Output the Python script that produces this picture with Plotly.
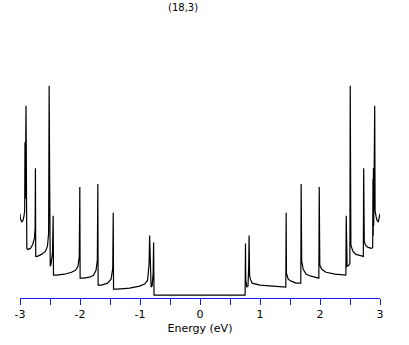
import plotly.graph_objects as go

# Density of states of a (18,3) nanotube (arbitrary units)
energy_neg = [-3.0, -2.993, -2.972, -2.952, -2.935, -2.922, -2.917, -2.912, -2.900, -2.893,
              -2.886, -2.868, -2.826, -2.788, -2.760, -2.748, -2.743, -2.738, -2.710, -2.643,
              -2.577, -2.543, -2.523, -2.514, -2.506, -2.496, -2.484, -2.459, -2.447, -2.442,
              -2.392, -2.259, -2.142, -2.075, -2.033, -2.012, -2.003, -1.998, -1.942, -1.841,
              -1.775, -1.733, -1.711, -1.703, -1.698, -1.641, -1.541, -1.482, -1.454, -1.446,
              -1.441, -1.374, -1.174, -1.007, -0.923, -0.873, -0.848, -0.840, -0.831, -0.815,
              -0.798, -0.781, -0.773, -0.766]
dos_neg = [0.82, 0.77, 0.74, 0.75, 0.79, 0.85, 1.54, 0.97, 1.91, 1.17,
           0.47, 0.46, 0.47, 0.51, 0.57, 0.67, 1.28, 0.39, 0.39, 0.41,
           0.44, 0.49, 0.62, 2.11, 1.19, 0.29, 0.31, 0.42, 0.80, 0.20,
           0.20, 0.21, 0.23, 0.25, 0.29, 0.39, 1.09, 0.17, 0.17, 0.18,
           0.20, 0.25, 0.35, 1.12, 0.10, 0.10, 0.12, 0.16, 0.27, 0.83,
           0.06, 0.06, 0.07, 0.09, 0.11, 0.15, 0.32, 0.60, 0.32, 0.08,
           0.09, 0.22, 0.53, 0.0]

energy_gap = [-0.5, -0.25, 0.0, 0.25, 0.5, 0.75]
dos_gap = [0.0, 0.0, 0.0, 0.0, 0.0, 0.0]

energy_pos = [0.752, 0.758, 0.763, 0.780, 0.800, 0.812, 0.818, 0.826, 0.84, 0.87,
              0.92, 1.00, 1.21, 1.41, 1.430, 1.436, 1.441, 1.47, 1.52, 1.60,
              1.68, 1.686, 1.690, 1.695, 1.72, 1.77, 1.85, 1.981, 1.987, 1.991,
              1.997, 2.03, 2.10, 2.25, 2.431, 2.437, 2.441, 2.452, 2.480, 2.498,
              2.504, 2.507, 2.515, 2.55, 2.60, 2.66, 2.722, 2.728, 2.731, 2.738,
              2.76, 2.80, 2.86, 2.878, 2.883, 2.887, 2.890, 2.895, 2.912, 2.918,
              2.935, 2.952, 2.972, 2.990, 3.0]
dos_pos = [0.02, 0.52, 0.15, 0.08, 0.09, 0.30, 0.60, 0.20, 0.16, 0.12,
           0.11, 0.10, 0.09, 0.08, 0.08, 0.83, 0.22, 0.16, 0.14, 0.12,
           0.12, 1.12, 0.60, 0.34, 0.26, 0.21, 0.19, 0.17, 1.09, 0.45,
           0.30, 0.26, 0.23, 0.21, 0.20, 0.80, 0.40, 0.29, 0.30, 0.32,
           2.11, 0.70, 0.50, 0.44, 0.41, 0.40, 0.39, 1.28, 0.80, 0.54,
           0.50, 0.48, 0.47, 0.48, 1.17, 0.60, 1.28, 0.70, 1.91, 0.85,
           0.79, 0.75, 0.74, 0.78, 0.82]

energy = energy_neg + energy_gap + energy_pos
dos = dos_neg + dos_gap + dos_pos

tick_vals = [-3, -2.5, -2, -1.5, -1, -0.5, 0, 0.5, 1, 1.5, 2, 2.5, 3]
tick_text = ["-3", "", "-2", "", "-1", "", "0", "", "1", "", "2", "", "3"]

fig = go.Figure(go.Scatter(x=energy, y=dos, mode="lines",
                           line=dict(color="black", width=1.2), hoverinfo="skip"))

fig.update_layout(
    width=409, height=345,
    margin=dict(l=20, r=29, t=70, b=45),
    paper_bgcolor="white", plot_bgcolor="white",
    showlegend=False,
    font=dict(family="DejaVu Sans", size=11, color="black"),
    xaxis=dict(range=[-3, 3], showgrid=False, zeroline=False,
               showline=True, linecolor="#1a1aff", linewidth=1,
               ticks="outside", ticklen=6, tickcolor="#1a1aff", tickwidth=1,
               tickvals=tick_vals, ticktext=tick_text,
               tickfont=dict(size=11, color="black"),
               title=dict(text="Energy (eV)", font=dict(size=11, color="black"), standoff=4)),
    yaxis=dict(range=[-0.03, 2.27], visible=False),
    annotations=[dict(text="(18,3)", xref="paper", yref="paper", x=0.453, y=1.274,
                      xanchor="center", yanchor="middle", showarrow=False,
                      font=dict(size=10, color="black"))],
)

fig.write_html("out.html", config={"displayModeBar": False})

# remove the default page margin so the figure sits at the window's top-left corner
with open("out.html", "r", encoding="utf-8") as f:
    html = f.read()
html = html.replace("<body>", '<body style="margin:0;padding:0;">', 1)
with open("out.html", "w", encoding="utf-8") as f:
    f.write(html)
